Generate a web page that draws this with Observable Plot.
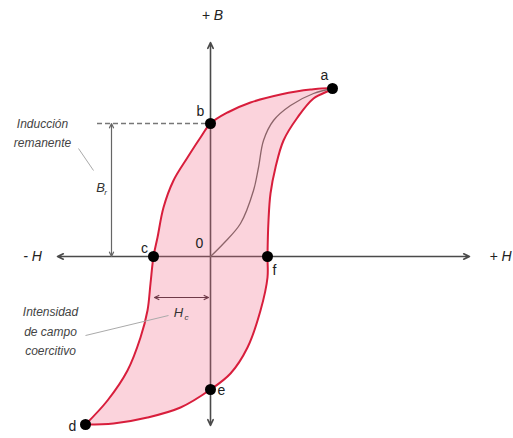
<!DOCTYPE html>
<html>
<head>
<meta charset="utf-8">
<script src="https://cdn.jsdelivr.net/npm/d3@7"></script>
<script src="https://cdn.jsdelivr.net/npm/@observablehq/plot@0.6"></script>
<style>
  html, body { margin: 0; padding: 0; background: #fff; }
  svg { display: block; }
</style>
</head>
<body>
<div id="chart"></div>
<script>
// Hysteresis loop (H = field intensity, B = induction), arbitrary units
const loopH = [-12.5, -10.3, -8.3, -7.0, -6.3, -6.0, -5.7, -5.3, -4.7, -3.7, -2.3, -1.0, 0, 1.7, 4.0, 7.0, 10.0, 12.2,
               10.3, 8.7, 7.3, 6.5, 6.0, 5.8, 5.7, 5.7, 5.0, 3.7, 2.0, 0, -3.0, -6.3, -9.7, -12.5];
const loopB = [-16.8, -14.4, -11.4, -8.1, -5.4, -2.7, 0, 1.9, 4.9, 7.6, 9.9, 11.9, 13.3, 14.4, 15.4, 16.2, 16.7, 16.8,
               15.8, 13.9, 11.6, 8.9, 6.3, 3.6, 0, -2.1, -5.4, -9.1, -11.7, -13.3, -15.1, -16.1, -16.7, -16.8];
// Initial magnetisation curve 0 -> a
const initH = [0, 1.3, 3.0, 4.3, 4.8, 5.3, 6.3, 8.0, 10.3, 12.2];
const initB = [0, 1.3, 3.3, 6.6, 8.9, 11.6, 13.6, 15.1, 16.3, 16.8];
// Named points
const pointNames = ["a", "b", "c", "d", "e", "f"];
const pointH = [12.2, 0, -5.7, -12.5, 0, 5.7];
const pointB = [16.8, 13.3, 0, -16.8, -13.3, 0];
const labelH = [11.4, -1.0, -6.6, -13.8, 1.1, 6.4];
const labelB = [18.1, 14.5, 0.8, -17.0, -13.4, -1.4];
// Origin label
const originLabel = "0", originH = -1.1, originB = 1.3;
// Axis extents
const axisHmin = -15.3, axisHmax = 25.9, axisBmin = -16.9, axisBmax = 21.4;
// Remanent induction Br and coercive field Hc
const Br = 13.3, BrH = -9.9, dashStartH = -11.3;
const Hc = -5.6, HcB = -4.1;

const loop = loopH.map((h, i) => ({H: h, B: loopB[i]}));
const init = initH.map((h, i) => ({H: h, B: initB[i]}));
const pts = pointNames.map((n, i) => ({name: n, H: pointH[i], B: pointB[i], lh: labelH[i], lb: labelB[i]}));

const axisArrows = [
  {x1: 0, y1: 0, x2: axisHmax, y2: 0},
  {x1: 0, y1: 0, x2: axisHmin, y2: 0},
  {x1: 0, y1: 0, x2: 0, y2: axisBmax},
  {x1: 0, y1: 0, x2: 0, y2: axisBmin}
];
const brArrows = [
  {x1: BrH, y1: Br / 2, x2: BrH, y2: Br},
  {x1: BrH, y1: Br / 2, x2: BrH, y2: 0}
];
const hcArrows = [
  {x1: Hc / 2, y1: HcB, x2: Hc, y2: HcB},
  {x1: Hc / 2, y1: HcB, x2: -0.2, y2: HcB}
];
const leaders = [
  {x1: -13.2, y1: 10.8, x2: -11.7, y2: 8.6},
  {x1: -12.5, y1: -7.9, x2: -4.2, y2: -5.9}
];
const axisLabels = [
  {t: "+ B", H: 0.2, B: 24.1},
  {t: "- H", H: -17.8, B: 0},
  {t: "+ H", H: 29.0, B: 0}
];
const notes = [
  {t: "Inducción\nremanente", H: -16.8, B: 12.5},
  {t: "Intensidad\nde campo\ncoercitivo", H: -16.0, B: -7.3}
];
const symbols = [
  {t: "B", H: -11.0, B: 6.9, s: 13},
  {t: "r", H: -10.5, B: 6.4, s: 8},
  {t: "H", H: -3.2, B: -5.6, s: 13},
  {t: "c", H: -2.4, B: -6.1, s: 8}
];

const font = "'Liberation Sans', Arial, sans-serif";

const chart = Plot.plot({
  width: 513,
  height: 438,
  margin: 0,
  x: {domain: [-21, 30.3], axis: null},
  y: {domain: [-18.2, 25.6], axis: null},
  style: {fontFamily: font, background: "#fff"},
  marks: [
    Plot.arrow(axisArrows, {x1: "x1", y1: "y1", x2: "x2", y2: "y2", stroke: "#4a4a4a", strokeWidth: 1.6, headLength: 6, headAngle: 50}),
    Plot.line(loop, {x: "H", y: "B", curve: "catmull-rom", fill: "#f06080", fillOpacity: 0.28, stroke: "none"}),
    Plot.line(loop, {x: "H", y: "B", curve: "catmull-rom", stroke: "#d81e3c", strokeWidth: 2}),
    Plot.line(init, {x: "H", y: "B", curve: "catmull-rom", stroke: "#8c6469", strokeWidth: 1.3}),
    Plot.ruleY([Br], {x1: dashStartH, x2: 0, stroke: "#777", strokeWidth: 1.5, strokeDasharray: "5,3"}),
    Plot.arrow(brArrows, {x1: "x1", y1: "y1", x2: "x2", y2: "y2", stroke: "#666", strokeWidth: 1.2, headLength: 6, headAngle: 50}),
    Plot.arrow(hcArrows, {x1: "x1", y1: "y1", x2: "x2", y2: "y2", stroke: "#6e3a48", strokeWidth: 1.2, headLength: 6, headAngle: 50}),
    Plot.link(leaders, {x1: "x1", y1: "y1", x2: "x2", y2: "y2", stroke: "#aaa", strokeWidth: 1}),
    Plot.dot(pts, {x: "H", y: "B", r: 5.5, fill: "#000"}),
    Plot.text(pts, {x: "lh", y: "lb", text: "name", fontSize: 14, fill: "#222"}),
    Plot.text([originLabel], {x: originH, y: originB, text: d => d, fontSize: 14, fill: "#222"}),
    Plot.text(axisLabels, {x: "H", y: "B", text: "t", fontSize: 14, fontStyle: "italic", fill: "#222"}),
    Plot.text(notes, {x: "H", y: "B", text: "t", fontSize: 12, fontStyle: "italic", fill: "#444", lineHeight: 1.6}),
    Plot.text(symbols, {x: "H", y: "B", text: "t", fontSize: d => d.s, fontStyle: "italic", fill: "#333"})
  ]
});
document.getElementById("chart").appendChild(chart);
</script>
</body>
</html>
